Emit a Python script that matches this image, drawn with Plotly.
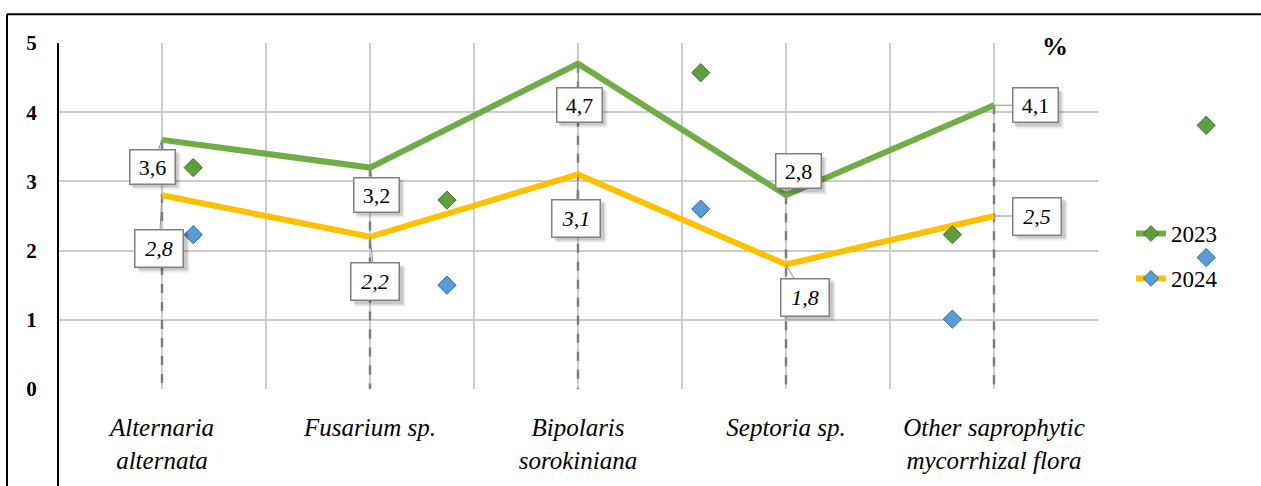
import plotly.graph_objects as go

# Fungal species (x categories) and infection values, %
categories = ["Alternaria<br>alternata", "Fusarium sp.", "Bipolaris<br>sorokiniana",
              "Septoria sp.", "Other saprophytic<br>mycorrhizal flora"]
values_2023 = [3.6, 3.2, 4.7, 2.8, 4.1]
values_2024 = [2.8, 2.2, 3.1, 1.8, 2.5]

# Free-floating series markers (position along category axis, value)
marker_x = [0.15, 1.37, 2.59, 3.80, 5.02]
marker_2023 = [3.2, 2.73, 4.57, 2.23, 3.81]
marker_2024 = [2.23, 1.5, 2.6, 1.01, 1.9]

y_ticks = [0, 1, 2, 3, 4, 5]

GREEN = "#70AD47"
YELLOW = "#FFC000"
GRID = "#CCCCCC"
SERIF = "Liberation Serif"

W, H = 1261, 486
ML, MT, MB = 58, 43, 93
PLOT_R = 1098          # right edge of the gridded plot area (px)
FULL_R = 1240          # right edge of the wider overlay area (px)
MR = W - FULL_R
FW = FULL_R - ML       # paper width in px
PH = H - MT - MB

X0, X1 = -0.5, 4.5
unit_px = (PLOT_R - ML) / (X1 - X0)
x2_max = X0 + FW / unit_px

idx = list(range(len(categories)))


def px_x(p):
    return (p - ML) / FW


def px_y(p):
    return (MT + PH - p) / PH


fig = go.Figure()

# dashed drop lines from the 2023 points to the axis
drop_x, drop_y = [], []
for i, v in zip(idx, values_2023):
    drop_x += [i, i, None]
    drop_y += [v, 0, None]
fig.add_trace(go.Scatter(x=drop_x, y=drop_y, mode="lines", showlegend=False,
                         line=dict(color="rgba(110,110,110,0.85)", width=2.5, dash="dash"),
                         hoverinfo="skip"))

# free markers (on the wider overlay axes)
fig.add_trace(go.Scatter(x=marker_x, y=marker_2023, mode="markers", showlegend=False,
                         xaxis="x2", yaxis="y2",
                         marker=dict(symbol="diamond", size=14, color="#5E9E3E",
                                     line=dict(color="#3E7327", width=1))))
fig.add_trace(go.Scatter(x=marker_x, y=marker_2024, mode="markers", showlegend=False,
                         xaxis="x2", yaxis="y2",
                         marker=dict(symbol="diamond", size=14, color="#5B9BD5",
                                     line=dict(color="#2F6AA5", width=1))))

# series lines
fig.add_trace(go.Scatter(x=idx, y=values_2023, mode="lines", showlegend=False,
                         line=dict(color=GREEN, width=6)))
fig.add_trace(go.Scatter(x=idx, y=values_2024, mode="lines", showlegend=False,
                         line=dict(color=YELLOW, width=6)))

# legend entries
fig.add_trace(go.Scatter(x=[None], y=[None], mode="lines+markers", name="2023",
                         legendgroup="a",
                         line=dict(color=GREEN, width=6),
                         marker=dict(symbol="diamond", size=12, color="#5E9E3E",
                                     line=dict(color="#3E7327", width=1))))
fig.add_trace(go.Scatter(x=[None], y=[None], mode="lines+markers", name="2024",
                         legendgroup="b",
                         line=dict(color=YELLOW, width=6),
                         marker=dict(symbol="diamond", size=12, color="#5B9BD5",
                                     line=dict(color="#2F6AA5", width=1))))

# value labels: (dx, dy) pixel offsets of the label centre from its point
offsets_2023 = [(-10, 27), (6, 27), (1, 41), (12, -24), (41, 0)]
offsets_2024 = [(-3, 53), (5, 45), (-2, 44), (19, 33), (43, 0)]

annotations = []


def add_label(x, y, text, dx, dy, italic, w, h):
    label = f"<i>{text}</i>" if italic else text
    # soft drop shadow under the box
    for off, alpha in ((5, 0.08), (3, 0.15)):
        annotations.append(dict(x=x, y=y, xref="x", yref="y", text="", showarrow=False,
                                xshift=dx + off, yshift=-dy - off, width=w + 2, height=h + 2,
                                borderpad=4, bgcolor=f"rgba(0,0,0,{alpha})"))
    annotations.append(dict(x=x, y=y, xref="x", yref="y", text=label, showarrow=True,
                            arrowhead=0, arrowwidth=1, arrowcolor="#8C8C8C",
                            ax=dx, ay=dy, width=w, height=h, borderpad=4,
                            bgcolor="white", bordercolor="#808080", borderwidth=1.5,
                            font=dict(family=SERIF, size=22)))


for i, v, (dx, dy) in zip(idx, values_2023, offsets_2023):
    add_label(i, v, f"{v:.1f}".replace(".", ","), dx, dy, False, 36, 25)
for i, v, (dx, dy) in zip(idx, values_2024, offsets_2024):
    add_label(i, v, f"{v:.1f}".replace(".", ","), dx, dy, True, 39, 28)

# unit label
annotations.append(dict(x=px_x(1070), y=px_y(30), xref="paper", yref="paper",
                        text="<b>%</b>", showarrow=False,
                        font=dict(family=SERIF, size=26)))

shapes = [
    # frame (top and left edges)
    dict(type="line", xref="paper", yref="paper", x0=px_x(7), x1=px_x(W + 5),
         y0=px_y(14), y1=px_y(14), line=dict(color="black", width=2)),
    dict(type="line", xref="paper", yref="paper", x0=px_x(7), x1=px_x(7),
         y0=px_y(14), y1=px_y(H + 5), line=dict(color="black", width=2)),
    # value axis line
    dict(type="line", xref="paper", yref="paper", x0=0, x1=0,
         y0=1, y1=px_y(H + 5), line=dict(color="black", width=2)),
]

fig.update_layout(
    width=W, height=H,
    margin=dict(l=ML, r=MR, t=MT, b=MB),
    paper_bgcolor="white", plot_bgcolor="rgba(0,0,0,0)",
    font=dict(family=SERIF, color="black"),
    annotations=annotations,
    shapes=shapes,
    showlegend=True,
    legend=dict(x=px_x(1131), y=px_y(214), xanchor="left", yanchor="top",
                font=dict(family=SERIF, size=23),
                bgcolor="rgba(0,0,0,0)", traceorder="grouped", tracegroupgap=12),
    xaxis=dict(domain=[0, px_x(PLOT_R)], range=[X0, X1], tickmode="array", tickvals=idx,
               ticktext=[f"<i>{c}</i>" for c in categories],
               showgrid=True, gridcolor=GRID, gridwidth=1.5, zeroline=False,
               showline=False, ticks="outside", ticklen=16, tickcolor="rgba(0,0,0,0)",
               tickfont=dict(family=SERIF, size=25),
               minor=dict(tickmode="linear", tick0=X0, dtick=0.5, showgrid=True,
                          gridcolor=GRID, gridwidth=1.5, ticks=""),
               fixedrange=True),
    yaxis=dict(range=[0, 5], tickmode="array", tickvals=y_ticks,
               ticktext=[f"<b>{t}</b>" for t in y_ticks],
               showgrid=True, gridcolor=GRID, gridwidth=1.5, zeroline=False,
               showline=False, ticks="outside", ticklen=16, tickcolor="rgba(0,0,0,0)",
               tickfont=dict(family=SERIF, size=21),
               fixedrange=True),
    xaxis2=dict(domain=[0, 1], range=[X0, x2_max], anchor="y2", visible=False,
                fixedrange=True),
    yaxis2=dict(domain=[0, 1], range=[0, 5], anchor="x2", overlaying="y", visible=False,
                fixedrange=True),
)

# redraw once the serif faces are loaded so text is measured and painted with them
post = """
var gd = document.getElementById('{plot_id}');
if (document.fonts && document.fonts.load) {
  Promise.all([
    document.fonts.load('22px "Liberation Serif"'),
    document.fonts.load('italic 22px "Liberation Serif"'),
    document.fonts.load('bold 22px "Liberation Serif"')
  ]).then(function () { Plotly.redraw(gd); });
}
"""

fig.write_html("out.html", post_script=post)
